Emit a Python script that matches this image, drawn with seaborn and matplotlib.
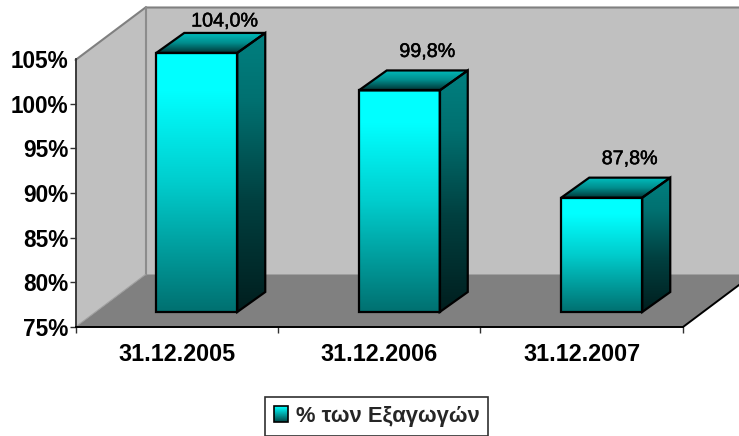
import numpy as np
import matplotlib
matplotlib.use("Agg")
import matplotlib.pyplot as plt
import matplotlib.patheffects as pe
from matplotlib.patches import Polygon, Rectangle, Patch
from matplotlib.transforms import Affine2D, IdentityTransform
from matplotlib.colors import LinearSegmentedColormap
from matplotlib.legend_handler import HandlerBase
import seaborn as sns

dates = ["31.12.2005", "31.12.2006", "31.12.2007"]
export_share = [104.0, 99.8, 87.8]
value_labels = ["104,0%", "99,8%", "87,8%"]
y_ticks = [75, 80, 85, 90, 95, 100, 105]
series_name = "% των Εξαγωγών"

sns.set_theme(style="white")
plt.rcParams["font.family"] = ["Liberation Sans", "DejaVu Sans"]

W, H = 739, 436
fig = plt.figure(figsize=(W / 100, H / 100), dpi=100, facecolor="white")
ax = fig.add_axes([75.5 / W, 109 / H, 607.5 / W, 268 / H])
ax.patch.set_visible(False)

sns.barplot(x=dates, y=export_share, color="white", width=0.4, ax=ax, zorder=5)
ax.set_xlim(-0.5, 2.5)
ax.set_ylim(75, 105)

IDENT = IdentityTransform()
WALL_DX, WALL_DY = 70, 52.5
FRONT_DX, FRONT_DY = 20, 15
DEPTH_DX, DEPTH_DY = 28, 20

front_cmap = LinearSegmentedColormap.from_list(
    "front", [(0, "#00ffff"), (0.15, "#00ffff"), (0.5, "#00cdcd"), (1, "#007070")])
side_cmap = LinearSegmentedColormap.from_list(
    "side", [(0, "#008080"), (0.25, "#007070"), (0.6, "#004040"), (1, "#001e1e")])
top_cmap = LinearSegmentedColormap.from_list(
    "top", [(0, "#00bcbc"), (0.5, "#008c8c"), (1, "#003434")])
swatch_cmap = LinearSegmentedColormap.from_list(
    "swatch", [(0, "#00ffff"), (1, "#005050")])

# --- box walls and floor -------------------------------------------------
to_px = ax.transData.transform
(x0, y0), (x1, y1) = to_px((-0.5, 75)), to_px((2.5, 105))
y1 = y1 - 1
d = np.array([WALL_DX, WALL_DY])
bl, br, tl = np.array([x0, y0]), np.array([x1, y0]), np.array([x0, y1])
tr = np.array([x1, y1])

def face(pts, fc, ec="none", lw=0, z=-5):
    p = Polygon(pts, closed=True, facecolor=fc, edgecolor=ec, linewidth=lw,
                transform=IDENT, clip_on=False, zorder=z, joinstyle="miter")
    ax.add_patch(p)
    return p

face([bl + d, br + d, tr + d, tl + d], "#c0c0c0")
face([bl, bl + d, tl + d, tl], "#c0c0c0")
face([bl, bl + d, br + d, br], "#808080")
ax.plot(*np.array([tl, tl + d, tr + d]).T, color="#808080", lw=1.5,
        transform=IDENT, clip_on=False, zorder=-4)
ax.plot(*np.array([tl + d, bl + d]).T, color="#8c8c8c", lw=1.5,
        transform=IDENT, clip_on=False, zorder=-4)
ax.plot(*np.array([bl, bl + d]).T, color="#a0a0a0", lw=0.8,
        transform=IDENT, clip_on=False, zorder=-4)
ax.plot(*np.array([br, br + d]).T, color="black", lw=1.4,
        transform=IDENT, clip_on=False, zorder=-3)

# --- 3D bars, built from the seaborn rectangles ---------------------------
def gradient_face(pts, cmap, z):
    pts = np.asarray(pts)
    poly = face(pts, "none", "black", 1.6, z + 0.5)
    g = np.linspace(0, 1, 256).reshape(-1, 1)
    im = ax.imshow(g, cmap=cmap, vmin=0, vmax=1, aspect="auto", origin="upper",
                   extent=(pts[:, 0].min(), pts[:, 0].max(),
                           pts[:, 1].min(), pts[:, 1].max()),
                   transform=IDENT, zorder=z, interpolation="bilinear")
    im.set_clip_path(poly)
    im.set_clip_box(fig.bbox)

front_shift = ax.transData + Affine2D().translate(FRONT_DX, FRONT_DY)
depth = np.array([DEPTH_DX, DEPTH_DY])
for i, (bar, v, lab) in enumerate(zip(ax.patches, export_share, value_labels)):
    bar.set_y(75)
    bar.set_height(v - 75)
    bx0, bx1 = bar.get_x(), bar.get_x() + bar.get_width()
    a = front_shift.transform((bx0, 75))
    b = front_shift.transform((bx1, 75))
    c = front_shift.transform((bx1, v))
    e = front_shift.transform((bx0, v))
    z = 3 + i * 0.01
    gradient_face([a, b, c, e], front_cmap, z)
    gradient_face([b, b + depth, c + depth, c], side_cmap, z)
    gradient_face([e, c, c + depth, e + depth], top_cmap, z)
    bar.set_visible(False)
    mid = (e + c) / 2 + depth
    ypx = min(mid[1] + 19, H - 21)
    ax.text(mid[0], ypx, lab, transform=IDENT, ha="center", va="center",
            fontsize=14.2, color="black", clip_on=False, zorder=8,
            path_effects=[pe.withStroke(linewidth=0.35, foreground="black")])

ax.set_xlim(-0.5, 2.5)
ax.set_ylim(75, 105)

# --- axes ----------------------------------------------------------------
for s in ("top", "right"):
    ax.spines[s].set_visible(False)
ax.spines["left"].set_color("#303030")
ax.spines["bottom"].set_color("black")
ax.spines["left"].set_linewidth(1.3)
ax.spines["bottom"].set_linewidth(1.4)

ax.set_yticks(y_ticks)
ax.set_yticklabels([f"{t}%" for t in y_ticks], fontsize=16.3, fontweight="bold", color="black")
ax.tick_params(axis="y", which="major", left=True, length=4.3, width=1, color="#303030", pad=1)
ax.yaxis.get_major_ticks()[-1].tick1line.set_visible(False)
ax.set_xticks([0, 1, 2])
ax.set_xticklabels(dates, fontsize=16.8, fontweight="bold", color="black")
ax.set_xticks([-0.5, 0.5, 1.5, 2.5], minor=True)
ax.tick_params(axis="x", which="major", length=0, pad=11.3)
ax.tick_params(axis="x", which="minor", bottom=True, length=4.3, width=1, color="#303030")
ax.set_xlabel("")
ax.set_ylabel("")

# --- legend --------------------------------------------------------------
class GradientSwatch(HandlerBase):
    def create_artists(self, legend, orig, xd, yd, width, height, fontsize, trans):
        n = 30
        arts = []
        for k in range(n):
            arts.append(Rectangle((-xd, -yd + height * (1 - (k + 1) / n)), width, height / n + 0.2,
                                  facecolor=swatch_cmap(k / (n - 1)), edgecolor="none",
                                  transform=trans))
        arts.append(Rectangle((-xd, -yd), width, height, facecolor="none",
                              edgecolor="black", linewidth=1.2, transform=trans))
        return arts

handle = Patch(label=series_name)
leg = fig.legend(handles=[handle], handler_map={Patch: GradientSwatch()},
                 loc="lower left", bbox_to_anchor=(265 / W, 0.5 / H), borderaxespad=0,
                 frameon=True, fancybox=False, edgecolor="#303030", framealpha=1,
                 prop={"size": 15.8, "weight": "bold", "family": ["Liberation Sans"]},
                 handlelength=0.64, handleheight=0.68, handletextpad=0.35, borderpad=0.4)
leg.get_frame().set_linewidth(1.2)

fig.savefig("out.png", dpi=100, facecolor="white")
